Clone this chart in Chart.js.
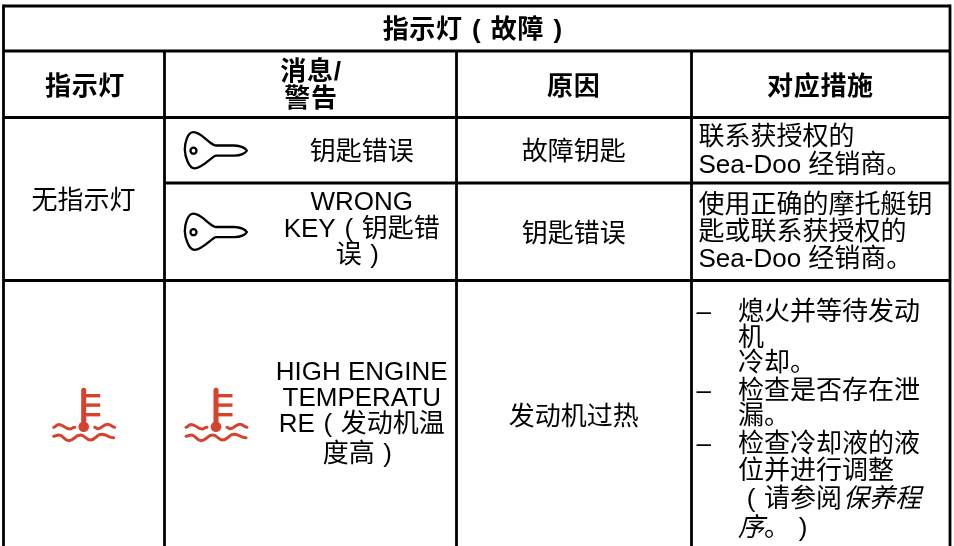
<!DOCTYPE html>
<html>
<head>
<meta charset="utf-8">
<style>
  html, body { margin: 0; padding: 0; background: #fff; }
  canvas { display: block; }
</style>
<script src="https://cdn.jsdelivr.net/npm/chart.js@4"></script>
</head>
<body>
<canvas id="chart" width="954" height="546"></canvas>
<script>
// table structure
const columnEdges = [3.5, 164.5, 456.5, 691.5, 950];
const rowEdges = [6, 51, 117.5, 183, 280.5, 546];

// table text, one entry per printed line (the gaps round the brackets are 1/3 em spaces)
const titleText = "指示灯\u2004(\u2004故障\u2004)\u2004";
const headerTexts = ["指示灯", "消息/", "警告", "原因", "对应措施"];
const indicatorTexts = ["无指示灯"];
const messageTexts = ["钥匙错误", "WRONG", "KEY\u2004(\u2004钥匙错", "误\u2004)\u2004", "HIGH ENGINE", "TEMPERATU", "RE\u2004(\u2004发动机温", "度高\u2004)\u2004"];
const causeTexts = ["故障钥匙", "钥匙错误", "发动机过热"];
const actionTexts = ["联系获授权的", "Sea-Doo 经销商。", "使用正确的摩托艇钥", "匙或联系获授权的", "Sea-Doo 经销商。"];
const dashTexts = ["–", "–", "–"];
const stepTexts = ["熄火并等待发动", "机", "冷却。", "检查是否存在泄", "漏。", "检查冷却液的液", "位并进行调整", "\u2004(\u2004请参阅"];
const stepItalicTexts = ["保养程", "序"];
const stepEndTexts = ["。\u2004)"];

// where those lines sit
const headerX = [85, 311, 311, 573.7, 820.4];
const headerY = [94.5, 79.5, 106.5, 94.5, 94.5];
const messageY = [160, 210, 237, 263, 380, 406, 432, 461.5];
const causeY = [160, 242, 425];
const actionY = [145, 173, 213, 240, 267];
const dashY = [320, 399, 452];
const stepY = [320, 346, 371, 399, 424, 452, 478.5, 507];
const keyAnchorY = [150.7, 232.2];
const gaugeAnchorX = [83.7, 216];

function rule(x1, y1, x2, y2) {
  return {
    type: "line",
    data: [{ x: x1, y: y1 }, { x: x2, y: y2 }],
    borderColor: "#000",
    borderWidth: 2.8,
    pointRadius: 0,
    clip: false,
  };
}

const [c0, c1, c2, c3, c4] = columnEdges;
const [r0, r1, r2, r3, r4, r5] = rowEdges;
const rules = [
  rule(c0, r0 - 1.4, c0, r5),
  rule(c4, r0 - 1.4, c4, r5),
  rule(c1, r1, c1, r5),
  rule(c2, r1, c2, r5),
  rule(c3, r1, c3, r5),
  rule(c0, r0, c4, r0),
  rule(c0, r1, c4, r1),
  rule(c0, r2, c4, r2),
  rule(c1, r3, c4, r3),
  rule(c0, r4, c4, r4),
];

const REGULAR = '26px "Liberation Sans", "Noto Sans CJK SC"';
const BOLD = 'bold 26px "Liberation Sans", "Noto Sans CJK SC"';
const ITALIC = 'italic 26px "Liberation Sans", "Noto Sans CJK SC"';

const tablePlugin = {
  id: "table",
  afterDatasetsDraw(chart) {
    const { ctx, scales } = chart;
    const sx = (v) => scales.x.getPixelForValue(v);
    const sy = (v) => scales.y.getPixelForValue(v);

    function put(text, x, y, font, align) {
      ctx.font = font;
      ctx.letterSpacing = font === BOLD ? "0.7px" : "0px";
      ctx.textAlign = align;
      ctx.fillText(text, sx(x), sy(y));
    }

    ctx.save();
    ctx.fillStyle = "#000";
    ctx.textBaseline = "alphabetic";

    put(titleText, 477.5, 38, BOLD, "center");
    headerTexts.forEach((t, i) => put(t, headerX[i], headerY[i], BOLD, "center"));
    put(indicatorTexts[0], 83.5, 209, REGULAR, "center");
    messageTexts.forEach((t, i) => put(t, 361.7, messageY[i], REGULAR, "center"));
    causeTexts.forEach((t, i) => put(t, 573.8, causeY[i], REGULAR, "center"));
    actionTexts.forEach((t, i) => put(t, 698.5, actionY[i], REGULAR, "left"));
    dashTexts.forEach((t, i) => put(t, 696.5, dashY[i], REGULAR, "left"));
    stepTexts.forEach((t, i) => put(t, 738, stepY[i], REGULAR, "left"));
    put(stepItalicTexts[0], 843, 507, ITALIC, "left");
    put(stepItalicTexts[1], 738, 536, ITALIC, "left");
    put(stepEndTexts[0], 764, 536, REGULAR, "left");

    keyAnchorY.forEach((y) => drawKey(ctx, sx(193.5), sy(y)));
    gaugeAnchorX.forEach((x) => drawGauge(ctx, sx(x), sy(426.7)));
    ctx.restore();
  },
};

// key pictogram, origin at the hole in the head
function drawKey(ctx, x, y) {
  ctx.save();
  ctx.translate(x, y);
  ctx.strokeStyle = "#000";
  ctx.lineWidth = 2.3;
  ctx.lineJoin = "round";
  ctx.beginPath();
  ctx.moveTo(22, -5.2);
  ctx.lineTo(41, -5.2);
  ctx.bezierCurveTo(47, -5.2, 52, -2.5, 53.4, -0.2);
  ctx.bezierCurveTo(52, 2.5, 47, 5, 41, 5);
  ctx.lineTo(22, 5);
  ctx.bezierCurveTo(17, 7, 9, 17.5, 1, 17.6);
  ctx.bezierCurveTo(-5, 17.6, -8.5, 5, -8.7, -1);
  ctx.bezierCurveTo(-8.7, -8, -6, -18.5, 0, -18.5);
  ctx.bezierCurveTo(8, -18.5, 15, -7, 22, -5.2);
  ctx.closePath();
  ctx.stroke();
  ctx.beginPath();
  ctx.arc(0, 0, 3, 0, Math.PI * 2);
  ctx.stroke();
  ctx.restore();
}

// smooth wave through its crests and troughs
function wave(ctx, pts) {
  ctx.moveTo(pts[0][0], pts[0][1]);
  for (let i = 1; i < pts.length; i++) {
    const [x0, y0] = pts[i - 1];
    const [x1, y1] = pts[i];
    const mid = (x0 + x1) / 2;
    ctx.bezierCurveTo(mid, y0, mid, y1, x1, y1);
  }
}

// high temperature pictogram, origin at the centre of the bulb
function drawGauge(ctx, x, y) {
  const red = "#d6422b";
  ctx.save();
  ctx.translate(x, y);
  ctx.strokeStyle = red;
  ctx.fillStyle = red;
  ctx.lineCap = "round";

  ctx.lineWidth = 5;
  ctx.beginPath();
  ctx.moveTo(0, 0);
  ctx.lineTo(0, -36.5);
  ctx.stroke();
  ctx.beginPath();
  ctx.arc(0, 0, 5.3, 0, Math.PI * 2);
  ctx.fill();

  ctx.lineCap = "butt";
  ctx.lineWidth = 3.4;
  [-31, -21.6, -12].forEach((dy) => {
    ctx.beginPath();
    ctx.moveTo(0, dy);
    ctx.lineTo(16.5, dy);
    ctx.stroke();
  });

  ctx.lineCap = "round";
  ctx.lineWidth = 3;
  ctx.beginPath();
  wave(ctx, [[-30, 0.5], [-25, -2.3], [-14, 2.3], [-9, 0.5]]);
  wave(ctx, [[11, 0.5], [14, 2], [24, -2.5], [31, 0.5]]);
  wave(ctx, [[-30, 9.5], [-25, 8.3], [-15, 14], [-3.3, 8.3], [6.7, 13.3], [18, 7.6], [30, 11]]);
  ctx.stroke();
  ctx.restore();
}

new Chart(document.getElementById("chart"), {
  type: "scatter",
  data: { datasets: rules },
  options: {
    responsive: false,
    animation: false,
    layout: { padding: 0 },
    plugins: { legend: { display: false }, tooltip: { enabled: false } },
    scales: {
      x: { type: "linear", min: 0, max: 954, display: false },
      y: { type: "linear", min: 0, max: 546, reverse: true, display: false },
    },
  },
  plugins: [tablePlugin],
});
</script>
</body>
</html>
